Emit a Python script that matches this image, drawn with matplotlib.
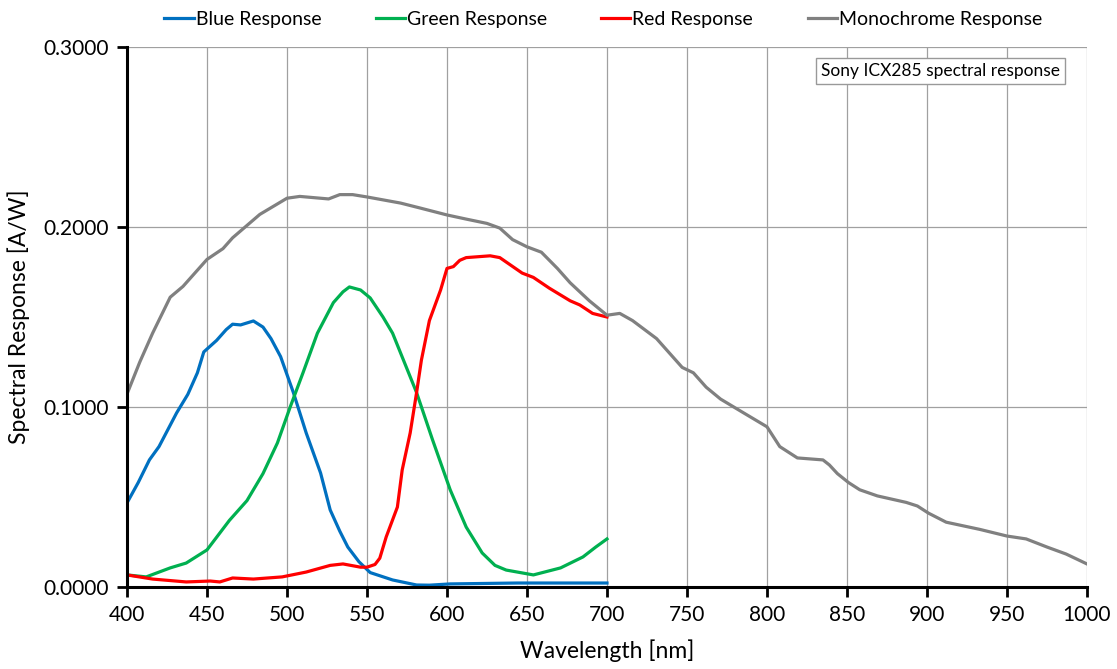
import matplotlib
matplotlib.use("Agg")
import matplotlib.pyplot as plt

plt.rcParams['font.family'] = ['Lato', 'DejaVu Sans']

# wavelength [nm] / response [A/W]
blue_nm = [400, 407, 414, 420, 431, 438, 444, 448, 456, 462, 466, 471, 479, 485, 490,
           496, 504, 512, 521, 527, 533, 538, 545, 552, 566, 581, 589, 602, 644, 700]
blue_val = [0.0467, 0.058, 0.0706, 0.078, 0.0967, 0.107, 0.119, 0.1306, 0.137, 0.143,
            0.146, 0.1456, 0.1478, 0.1444, 0.138, 0.128, 0.108, 0.0856, 0.0633, 0.0428,
            0.031, 0.0222, 0.014, 0.008, 0.0039, 0.0011, 0.001, 0.0017, 0.0022, 0.0022]

green_nm = [400, 412, 427, 437, 450, 464, 475, 485, 494, 502, 510, 519, 529, 535, 539,
            546, 552, 560, 566, 581, 591, 602, 612, 622, 630, 637, 654, 671, 685, 693,
            700]
green_val = [0.0067, 0.0056, 0.0106, 0.0133, 0.0206, 0.037, 0.048, 0.063, 0.080, 0.100,
             0.119, 0.141, 0.158, 0.164, 0.1667, 0.165, 0.1606, 0.150, 0.141, 0.108,
             0.0817, 0.054, 0.0333, 0.0189, 0.012, 0.0094, 0.0067, 0.0106, 0.0167,
             0.0222, 0.0267]

red_nm = [400, 416, 437, 452, 458, 466, 479, 497, 512, 527, 535, 546, 550, 555, 558,
          562, 569, 572, 577, 581, 584, 589, 596, 600, 604, 608, 612, 627, 633, 647,
          654, 664, 677, 683, 691, 700]
red_val = [0.0067, 0.0044, 0.0028, 0.0033, 0.0028, 0.005, 0.0044, 0.0056, 0.0083, 0.012,
           0.0128, 0.011, 0.011, 0.0125, 0.016, 0.0278, 0.0444, 0.065, 0.0856, 0.108,
           0.126, 0.148, 0.165, 0.177, 0.178, 0.1815, 0.183, 0.184, 0.183, 0.1744,
           0.172, 0.166, 0.159, 0.1567, 0.152, 0.150]

mono_nm = [400, 408, 416, 427, 435, 450, 460, 466, 483, 500, 508, 526, 533, 541, 550,
           571, 583, 600, 612, 625, 633, 641, 650, 659, 669, 677, 689, 700, 708, 716,
           731, 747, 754, 762, 771, 783, 800, 808, 819, 835, 839, 844, 851, 858, 869,
           887, 894, 901, 912, 933, 950, 962, 975, 987, 1000]
mono_val = [0.1072, 0.125, 0.141, 0.161, 0.167, 0.182, 0.188, 0.194, 0.207, 0.216,
            0.217, 0.2156, 0.218, 0.218, 0.2167, 0.2133, 0.2106, 0.2067, 0.2044, 0.202,
            0.1994, 0.193, 0.189, 0.186, 0.177, 0.169, 0.159, 0.151, 0.152, 0.148,
            0.138, 0.122, 0.119, 0.111, 0.1044, 0.098, 0.089, 0.078, 0.0717, 0.0706,
            0.0678, 0.063, 0.058, 0.054, 0.0506, 0.047, 0.045, 0.041, 0.036, 0.032,
            0.0283, 0.0267, 0.0222, 0.0183, 0.0128]

fig = plt.figure(figsize=(11.17, 6.69), dpi=100)
ax = fig.add_axes([0.1137, 0.1226, 0.8594, 0.8071])

lw = 2.3
ax.plot(blue_nm, blue_val, color="#0070C0", lw=lw, label="Blue Response")
ax.plot(green_nm, green_val, color="#00B050", lw=lw, label="Green Response")
ax.plot(red_nm, red_val, color="#FF0000", lw=lw, label="Red Response")
ax.plot(mono_nm, mono_val, color="#808080", lw=lw, label="Monochrome Response")

ax.set_xlim(400, 1000)
ax.set_ylim(0, 0.3)
ax.set_xticks(range(400, 1001, 50))
ax.set_yticks([0, 0.1, 0.2, 0.3])
ax.set_yticklabels(["0.0000", "0.1000", "0.2000", "0.3000"])
ax.grid(True, color="#a0a0a0", lw=0.9)
ax.set_axisbelow(True)

for s in ["top", "right"]:
    ax.spines[s].set_visible(False)
for s in ["left", "bottom"]:
    ax.spines[s].set_linewidth(2.2)
ax.tick_params(direction="out", length=7, width=2, labelsize=15, pad=6)

ax.set_xlabel("Wavelength [nm]", fontsize=16.5, labelpad=10)
ax.set_ylabel("Spectral Response [A/W]", fontsize=16.5, labelpad=10)

ax.text(0.972, 0.97, "Sony ICX285 spectral response", transform=ax.transAxes,
        ha="right", va="top", fontsize=12.5,
        bbox=dict(boxstyle="square,pad=0.3", fc="white", ec="#999999", lw=1))

fig.legend(loc="center", bbox_to_anchor=(0.54, 0.971), ncol=4, frameon=False,
           fontsize=14, handlelength=1.5, handletextpad=0.1, columnspacing=2.8)

fig.savefig("out.png", dpi=100)
